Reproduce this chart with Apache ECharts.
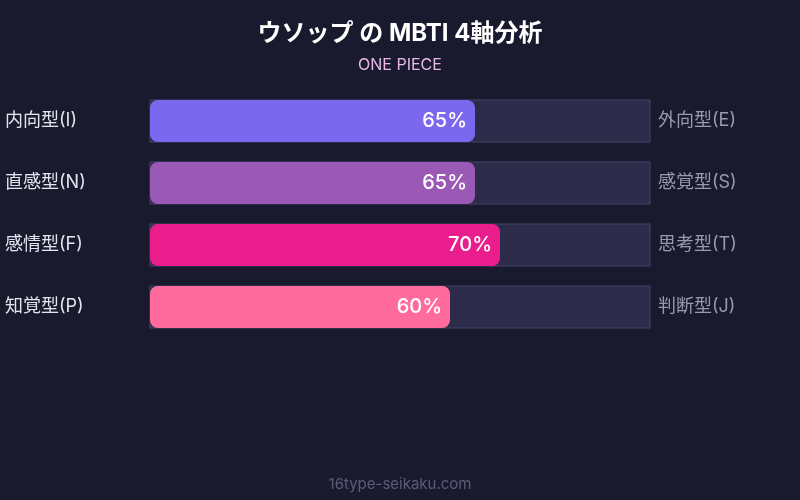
<!DOCTYPE html>
<html><head><meta charset="utf-8">
<script src="https://cdn.jsdelivr.net/npm/echarts@6/dist/echarts.min.js"></script>
<style>html,body{margin:0;padding:0;background:#1a1a2e;}#c{width:800px;height:500px;}</style>
</head><body><div id="c"></div>
<script>
const leftLabels = ['内向型(I)', '直感型(N)', '感情型(F)', '知覚型(P)'];
const rightLabels = ['外向型(E)', '感覚型(S)', '思考型(T)', '判断型(J)'];
const values = [65, 65, 70, 60];
const barColors = ['#7b68ee', '#9b59b6', '#e91e8c', '#ff6b9d'];
const titleText = 'ウソップ の MBTI 4軸分析';
const subtitleText = 'ONE PIECE';
const footerText = '16type-seikaku.com';

const font = 'Inter, "Noto Sans CJK JP", sans-serif';
const chart = echarts.init(document.getElementById('c'));
chart.setOption({
  backgroundColor: '#1a1a2e',
  animation: false,
  title: [{
    text: titleText, subtext: subtitleText, left: 'center', top: 17, itemGap: 11,
    textStyle: {color: '#ffffff', fontSize: 24, fontWeight: 'bold', fontFamily: font},
    subtextStyle: {color: '#e8b8e8', fontSize: 16, fontFamily: font}
  }, {
    text: footerText, left: 'center', bottom: 3,
    textStyle: {color: '#5c5c78', fontSize: 15, fontWeight: 'normal', fontFamily: font}
  }],
  grid: {left: 150, right: 150, top: 90, bottom: 162},
  xAxis: {type: 'value', min: 0, max: 100, show: false},
  yAxis: [{
    type: 'category', data: leftLabels, inverse: true, position: 'left',
    axisLine: {show: false}, axisTick: {show: false},
    axisLabel: {color: '#e4e4ee', fontSize: 18, fontFamily: font, align: 'left', margin: 145, padding: [8, 0, 0, 0]}
  }, {
    type: 'category', data: rightLabels, inverse: true, position: 'right',
    axisLine: {show: false}, axisTick: {show: false},
    axisLabel: {color: '#9a9aae', fontSize: 18, fontFamily: font, margin: 8, padding: [8, 0, 0, 0]}
  }],
  series: [{
    type: 'bar', yAxisIndex: 0, barWidth: 42,
    data: values.map((v, i) => ({value: v, itemStyle: {color: barColors[i]}})),
    itemStyle: {borderRadius: 8},
    showBackground: true,
    backgroundStyle: {color: '#2d2b4a', borderColor: '#44426a', borderWidth: 1},
    label: {show: true, position: 'insideRight', formatter: '{c}%', color: '#ffffff', fontSize: 20, fontWeight: 500, fontFamily: font, distance: 8, padding: [4, 0, 0, 0]}
  }]
});
</script></body></html>
